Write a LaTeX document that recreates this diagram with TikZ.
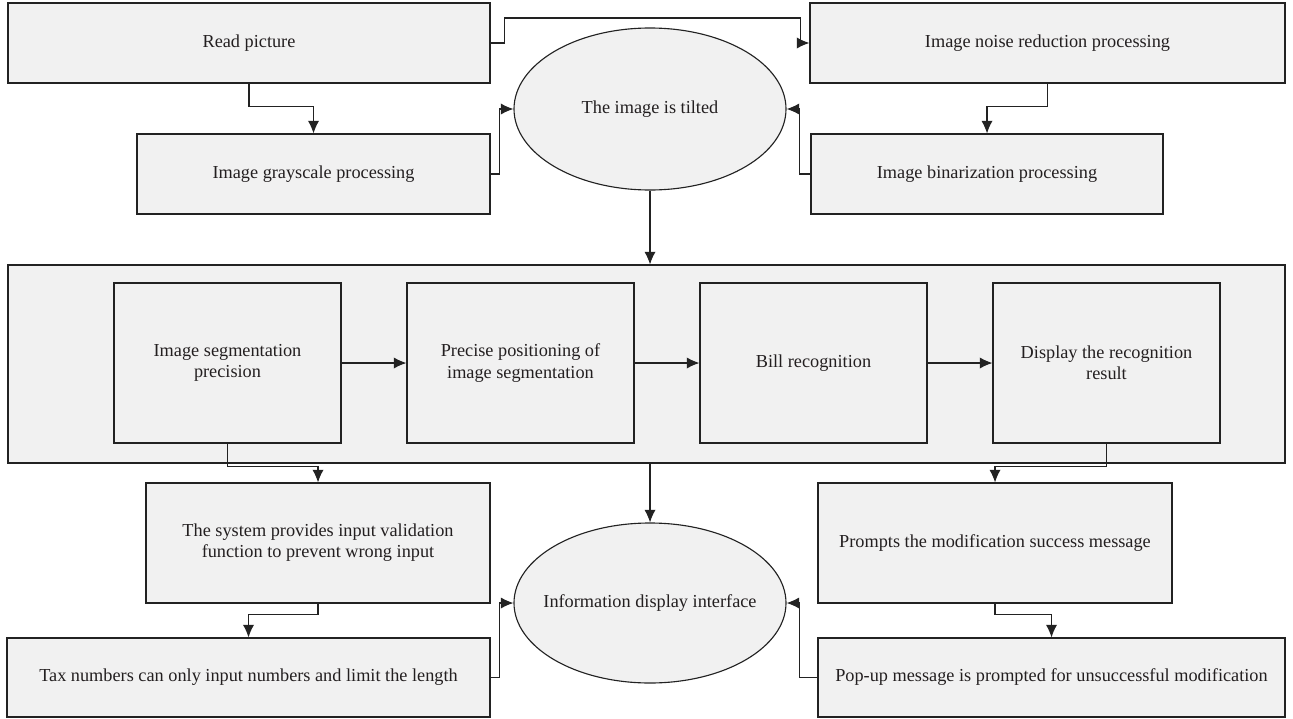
\documentclass[tikz,border=0pt]{standalone}
\usepackage{fontspec}
\setmainfont{Liberation Serif}
\usepackage{tikz}
\usetikzlibrary{positioning,shapes.geometric,arrows.meta}
\definecolor{boxfill}{HTML}{F1F1F1}
\definecolor{linec}{HTML}{222222}
\definecolor{textc}{HTML}{231F20}

\begin{document}
\begin{tikzpicture}[-{Latex[length=9pt,width=8pt]} ,on grid ,
line width=0.8pt ,draw=linec ,
node distance =7.325cm ,
font=\fontsize{13}{15}\selectfont ,
box/.style ={ rectangle ,draw=linec ,fill=boxfill ,text=textc ,
align=center ,inner sep=0pt},
oval/.style={ ellipse ,draw=linec ,fill=boxfill ,text=textc ,
inner xsep=-1.2cm ,inner ysep=0pt ,minimum width=6.8cm ,minimum height=4.05cm}
]
\useasboundingbox (0,0) rectangle (32.325,-17.95);
% top part
\node[box ,minimum width=12.05cm ,minimum height=2cm] (Read) at (6.225,-1.075) {Read picture};
\node[box ,minimum width=8.825cm ,minimum height=2cm] (Gray) [below right = 3.275cm and 1.6125cm of Read] {Image grayscale processing};
\node[oval] (Tilt) [above right = 1.625cm and 8.4125cm of Gray] {The image is tilted};
\node[box ,minimum width=11.875cm ,minimum height=2cm] (Noise) [right = 19.9625cm of Read] {Image noise reduction processing};
\node[box ,minimum width=8.8cm ,minimum height=2cm] (Binar) [below left = 3.275cm and 1.5125cm of Noise] {Image binarization processing};
% middle part
\node[box ,minimum width=31.925cm ,minimum height=4.95cm] (Big) at (16.1625,-9.1) {};
\node[box ,minimum width=5.675cm ,minimum height=4cm] (Seg) at (5.6875,-9.075) {Image segmentation\\precision};
\node[box ,minimum width=5.675cm ,minimum height=4cm] (Pos) [right = of Seg] {Precise positioning of\\image segmentation};
\node[box ,minimum width=5.675cm ,minimum height=4cm] (Bill) [right = of Pos] {Bill recognition};
\node[box ,minimum width=5.675cm ,minimum height=4cm] (Disp) [right = of Bill] {Display the recognition\\result};
% bottom part
\node[box ,minimum width=8.6cm ,minimum height=3cm] (Sys) [below right = 4.5cm and 2.2625cm of Seg] {The system provides input validation\\function to prevent wrong input};
\node[box ,minimum width=12.075cm ,minimum height=1.975cm] (Tax) [below left = 3.3625cm and 1.7375cm of Sys] {Tax numbers can only input numbers and limit the length};
\node[oval ,minimum height=4cm] (Info) [below = 12.35cm of Tilt] {Information display interface};
\node[box ,minimum width=8.85cm ,minimum height=3cm] (Prompt) [below left = 4.5cm and 2.7875cm of Disp] {Prompts the modification success message};
\node[box ,minimum width=11.675cm ,minimum height=1.975cm] (Popup) [below right = 3.3625cm and 1.4125cm of Prompt] {Pop-up message is prompted for unsuccessful modification};

\draw (Read.east) -- ++(0.35,0) -- ++(0,0.625) -| ([xshift=-0.225cm]Noise.west) -- (Noise.west);
\draw (Read.south) -- ++(0,-0.575) -| (Gray.north);
\draw (Gray.east) -- ++(0.225,0) |- (Tilt.west);
\draw (Noise.south) -- ++(0,-0.575) -| (Binar.north);
\draw (Binar.west) -- ++(-0.275,0) |- (Tilt.east);
\draw (Tilt.south) -- (Tilt.south |- Big.north);
\draw (Seg) -- (Pos);
\draw (Pos) -- (Bill);
\draw (Bill) -- (Disp);
\draw (Seg.south) -- ++(0,-0.575) -| (Sys.north);
\draw (Info.north |- Big.south) -- (Info.north);
\draw (Disp.south) -- ++(0,-0.575) -| (Prompt.north);
\draw (Sys.south) -- ++(0,-0.275) -| (Tax.north);
\draw (Tax.east) -- ++(0.225,0) |- (Info.west);
\draw (Prompt.south) -- ++(0,-0.275) -| (Popup.north);
\draw (Popup.west) -- ++(-0.45,0) |- (Info.east);
\end{tikzpicture}
\end{document}
